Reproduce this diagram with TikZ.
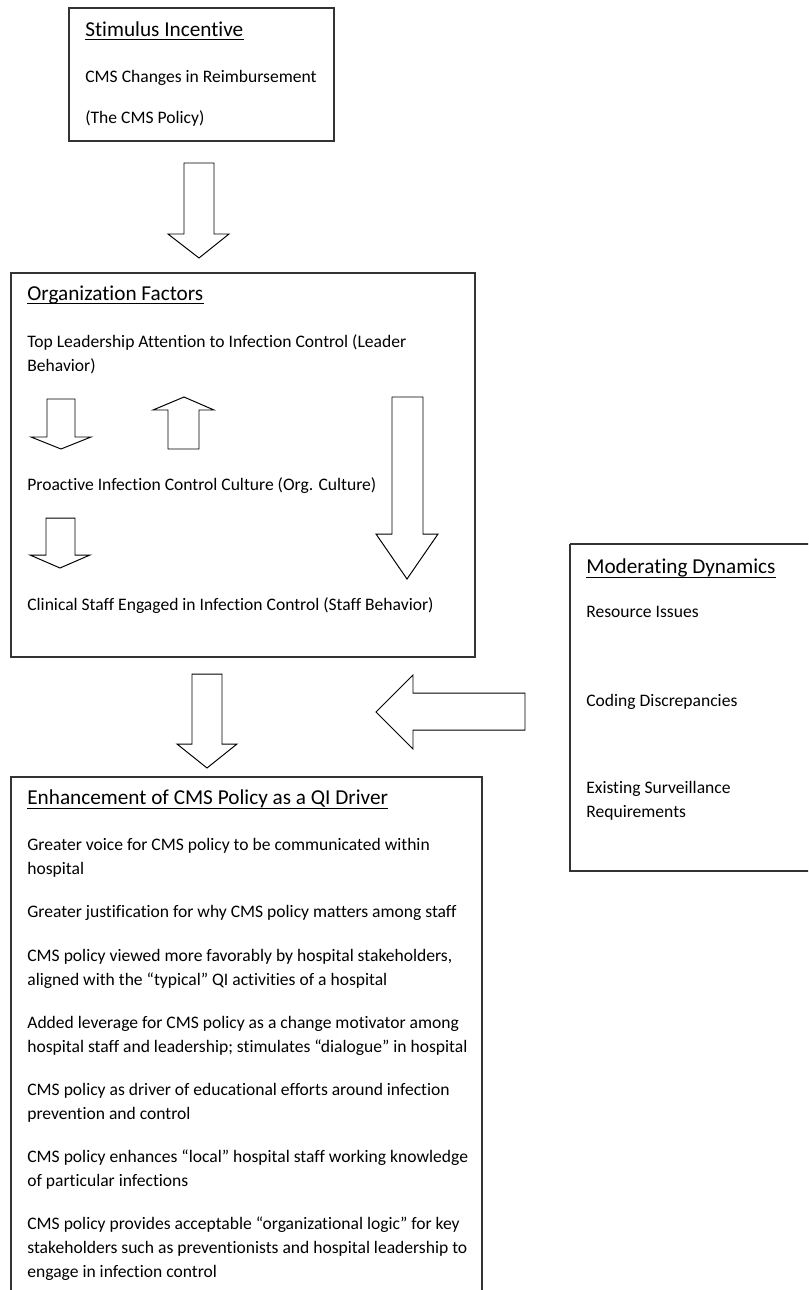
\documentclass[tikz,border=0pt]{standalone}
\usepackage{fontspec}
\setmainfont{Carlito}[Ligatures={TeX,NoCommon}]

\begin{document}
\begin{tikzpicture}[x=0.558pt, y=-0.558pt,
    box/.style={draw=black!80, line width=0.8pt},
    blockarrow/.style={draw=black, line width=0.55pt, fill=white, line join=miter},
    txt/.style={anchor=base west, inner sep=0pt, font=\fontsize{9.8}{12}\selectfont},
    headtxt/.style={txt, font=\fontsize{11.85}{14.4}\selectfont},
    uline/.style={line width=0.5pt}]
    \useasboundingbox (0,0) rectangle (808,1290);
    \clip (0,0) rectangle (808,1290);

    % --- Stimulus box ---
    \draw[box] (69,8) rectangle (334,141);
    \node[headtxt] (stimhead) at (85,36) {Stimulus Incentive};
    \draw[uline] ([yshift=-2.2pt]stimhead.base west) -- ([yshift=-2.2pt]stimhead.base east);
    \node[txt] (stim1) at (85,82) {CMS Changes in Reimbursement};
    \node[txt] (stim2) at (85,123) {(The CMS Policy)};

    % Arrow down to organization box
    \draw[blockarrow] (184,163) -- (214,163) -- (214,234) -- (229,234) -- (199,258)
        -- (168,234) -- (184,234) -- cycle;

    % --- Organization factors box ---
    \draw[box] (11,273) rectangle (475,657);
    \node[headtxt] (orghead) at (27,300) {Organization Factors};
    \draw[uline] ([yshift=-2.2pt]orghead.base west) -- ([yshift=-2.2pt]orghead.base east);
    \node[txt] (lead1) at (27,347) {Top Leadership Attention to Infection Control (Leader};
    \node[txt] (lead2) at (27,371) {Behavior)};
    \node[txt] (culture) at (27,490) {Proactive Infection Control Culture (Org. Culture)};
    \node[txt] (staff) at (27,610) {Clinical Staff Engaged in Infection Control (Staff Behavior)};

    % small arrows inside
    \draw[blockarrow] (47,399) -- (75,399) -- (75,437) -- (91,437) -- (61,449)
        -- (31,437) -- (47,437) -- cycle;
    \draw[blockarrow] (168,449) -- (199,449) -- (199,410) -- (214,410) -- (184,397)
        -- (153,410) -- (168,410) -- cycle;
    \draw[blockarrow] (46,518) -- (75,518) -- (75,555) -- (90,555) -- (60,568)
        -- (30,555) -- (46,555) -- cycle;
    \draw[blockarrow] (392,397) -- (423,397) -- (423,534) -- (438,534) -- (407,579)
        -- (376,534) -- (392,534) -- cycle;

    % Arrow down to enhancement box
    \draw[blockarrow] (192,674) -- (222,674) -- (222,744) -- (237,744) -- (207,768)
        -- (177,744) -- (192,744) -- cycle;

    % --- Moderating dynamics box (runs off the right edge) ---
    \draw[box] (570,544) -- (815,544) (815,871) -- (570,871) -- (570,544);
    \node[headtxt] (modhead) at (586,573) {Moderating Dynamics};
    \draw[uline] ([yshift=-2.2pt]modhead.base west) -- ([yshift=-2.2pt]modhead.base east);
    \node[txt] (mod1) at (586,617) {Resource Issues};
    \node[txt] (mod2) at (586,706) {Coding Discrepancies};
    \node[txt] (mod3) at (586,793) {Existing Surveillance};
    \node[txt] (mod4) at (586,817) {Requirements};

    % Arrow left from moderating box
    \draw[blockarrow] (525,693) -- (525,730) -- (413,730) -- (413,749) -- (376,712)
        -- (413,675) -- (413,693) -- cycle;

    % --- Enhancement box (runs off the bottom edge) ---
    \draw[box] (11,1300) -- (11,777) -- (482,777) -- (482,1300);
    \node[headtxt] (enhhead) at (27,804) {Enhancement of CMS Policy as a QI Driver};
    \draw[uline] ([yshift=-2.2pt]enhhead.base west) -- ([yshift=-2.2pt]enhhead.base east);
    \node[txt] (enh1) at (27,850) {Greater voice for CMS policy to be communicated within};
    \node[txt] (enh1b) at (27,874) {hospital};
    \node[txt] (enh2) at (27,917) {Greater justification for why CMS policy matters among staff};
    \node[txt] (enh3) at (27,961) {CMS policy viewed more favorably by hospital stakeholders,};
    \node[txt] (enh3b) at (27,985) {aligned with the ``typical'' QI activities of a hospital};
    \node[txt] (enh4) at (27,1028) {Added leverage for CMS policy as a change motivator among};
    \node[txt] (enh4b) at (27,1052) {hospital staff and leadership; stimulates ``dialogue'' in hospital};
    \node[txt] (enh5) at (27,1095) {CMS policy as driver of educational efforts around infection};
    \node[txt] (enh5b) at (27,1119) {prevention and control};
    \node[txt] (enh6) at (27,1162) {CMS policy enhances ``local'' hospital staff working knowledge};
    \node[txt] (enh6b) at (27,1186) {of particular infections};
    \node[txt] (enh7) at (27,1229) {CMS policy provides acceptable ``organizational logic'' for key};
    \node[txt] (enh7b) at (27,1253) {stakeholders such as preventionists and hospital leadership to};
    \node[txt] (enh7c) at (27,1277) {engage in infection control};
\end{tikzpicture}
\end{document}
